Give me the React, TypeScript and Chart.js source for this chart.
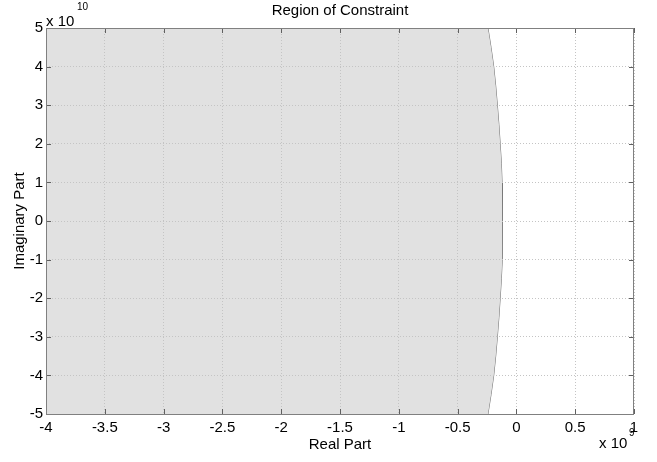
import React, { useEffect, useRef } from 'react';
import { Chart, registerables } from 'chart.js';

Chart.register(...registerables);

// Boundary of the constraint region
// imaginary part in units of 1e10, real part in units of 1e9
const imagBoundary = [5, 4.5, 4, 3.5, 3, 2.5, 2, 1.5, 1, 0.5, 0, -0.5, -1, -1.5, -2, -2.5, -3, -3.5, -4, -4.5, -5];
const realBoundary = [
  -0.242, -0.216, -0.193, -0.176, -0.162, -0.149, -0.138, -0.128, -0.122, -0.12, -0.119,
  -0.12, -0.122, -0.128, -0.138, -0.149, -0.162, -0.176, -0.193, -0.216, -0.242,
];

const xRange = [-4, 1];
const yRange = [-5, 5];
const xStep = 0.5;
const yStep = 1;

const titleText = 'Region of Constraint';
const xLabel = 'Real Part';
const yLabel = 'Imaginary Part';
const xExponent = '9';
const yExponent = '10';

const FONT = '"Liberation Sans", Arial, Helvetica, sans-serif';

export default function App() {
  const ref = useRef<HTMLCanvasElement>(null);

  useEffect(() => {
    const canvas = ref.current;
    if (!canvas) return;
    Chart.defaults.font.family = FONT;

    const boundary = realBoundary.map((x, i) => ({ x, y: imagBoundary[i] }));
    const region = boundary.concat([
      { x: xRange[0], y: yRange[0] },
      { x: xRange[0], y: yRange[1] },
    ]);

    const decor = {
      id: 'decor',
      afterDraw(chart: any) {
        const { ctx, chartArea } = chart;
        const { left, right, top, bottom } = chartArea;
        const xs = chart.scales.x;
        const ys = chart.scales.y;
        ctx.save();
        // inward tick marks
        ctx.strokeStyle = '#606060';
        ctx.lineWidth = 1;
        ctx.beginPath();
        xs.ticks.forEach((t: any) => {
          const px = Math.round(xs.getPixelForValue(t.value)) + 0.5;
          ctx.moveTo(px, bottom);
          ctx.lineTo(px, bottom - 5);
          ctx.moveTo(px, top);
          ctx.lineTo(px, top + 5);
        });
        ys.ticks.forEach((t: any) => {
          const py = Math.round(ys.getPixelForValue(t.value)) + 0.5;
          ctx.moveTo(left, py);
          ctx.lineTo(left + 5, py);
          ctx.moveTo(right, py);
          ctx.lineTo(right - 5, py);
        });
        ctx.stroke();
        // axes box
        ctx.strokeStyle = '#808080';
        ctx.strokeRect(left + 0.5, top + 0.5, right - left - 1, bottom - top);
        // title
        ctx.fillStyle = '#000';
        ctx.font = `15px ${FONT}`;
        ctx.textAlign = 'center';
        ctx.textBaseline = 'alphabetic';
        ctx.fillText(titleText, (left + right) / 2, 15);
        // exponent labels
        ctx.textAlign = 'left';
        ctx.fillText('x 10', left, 26);
        ctx.fillText('x 10', right - 35, 448);
        ctx.font = `10px ${FONT}`;
        ctx.fillText(yExponent, left + 31, 10);
        ctx.fillText(xExponent, right - 5, 436);
        ctx.restore();
      },
    };

    const tickFont = { size: 15, family: FONT };

    const chart = new Chart(canvas, {
      type: 'scatter',
      data: {
        datasets: [
          {
            data: region,
            showLine: true,
            fill: 'shape',
            backgroundColor: '#e1e1e1',
            borderWidth: 0,
            borderColor: 'rgba(0,0,0,0)',
            pointRadius: 0,
          },
          {
            data: boundary,
            showLine: true,
            fill: false,
            borderColor: '#6e6e6e',
            borderWidth: 1,
            pointRadius: 0,
          },
        ],
      },
      options: {
        responsive: false,
        animation: false,
        layout: { padding: { top: 28, right: 23, left: 0, bottom: 0 } },
        plugins: {
          legend: { display: false },
          tooltip: { enabled: false },
          title: { display: false },
        },
        scales: {
          x: {
            type: 'linear',
            position: 'bottom',
            min: xRange[0],
            max: xRange[1],
            afterFit: (s: any) => {
              s.height = 48;
            },
            ticks: {
              stepSize: xStep,
              autoSkip: false,
              maxRotation: 0,
              padding: 5,
              color: '#000',
              font: tickFont,
              callback: (v: any) => String(v),
            },
            grid: { color: '#c4c4c4', drawTicks: false, z: 1 },
            border: { display: false, dash: [1, 2] },
            title: {
              display: true,
              text: xLabel,
              color: '#000',
              font: tickFont,
              padding: { top: 0, bottom: 8 },
            },
          },
          y: {
            type: 'linear',
            position: 'left',
            min: yRange[0],
            max: yRange[1],
            afterFit: (s: any) => {
              s.width = 46;
            },
            ticks: {
              stepSize: yStep,
              autoSkip: false,
              padding: 3,
              color: '#000',
              font: tickFont,
              callback: (v: any) => String(v),
            },
            grid: { color: '#c4c4c4', drawTicks: false, z: 1 },
            border: { display: false, dash: [1, 2] },
            title: {
              display: true,
              text: yLabel,
              color: '#000',
              font: tickFont,
              padding: { top: 11, bottom: 0 },
            },
          },
        },
      },
      plugins: [decor],
    } as any);

    return () => chart.destroy();
  }, []);

  return (
    <div style={{ position: 'fixed', left: 0, top: 0, width: 657, height: 462, background: '#fff' }}>
      <canvas ref={ref} width={657} height={462} style={{ width: 657, height: 462, display: 'block' }} />
    </div>
  );
}
